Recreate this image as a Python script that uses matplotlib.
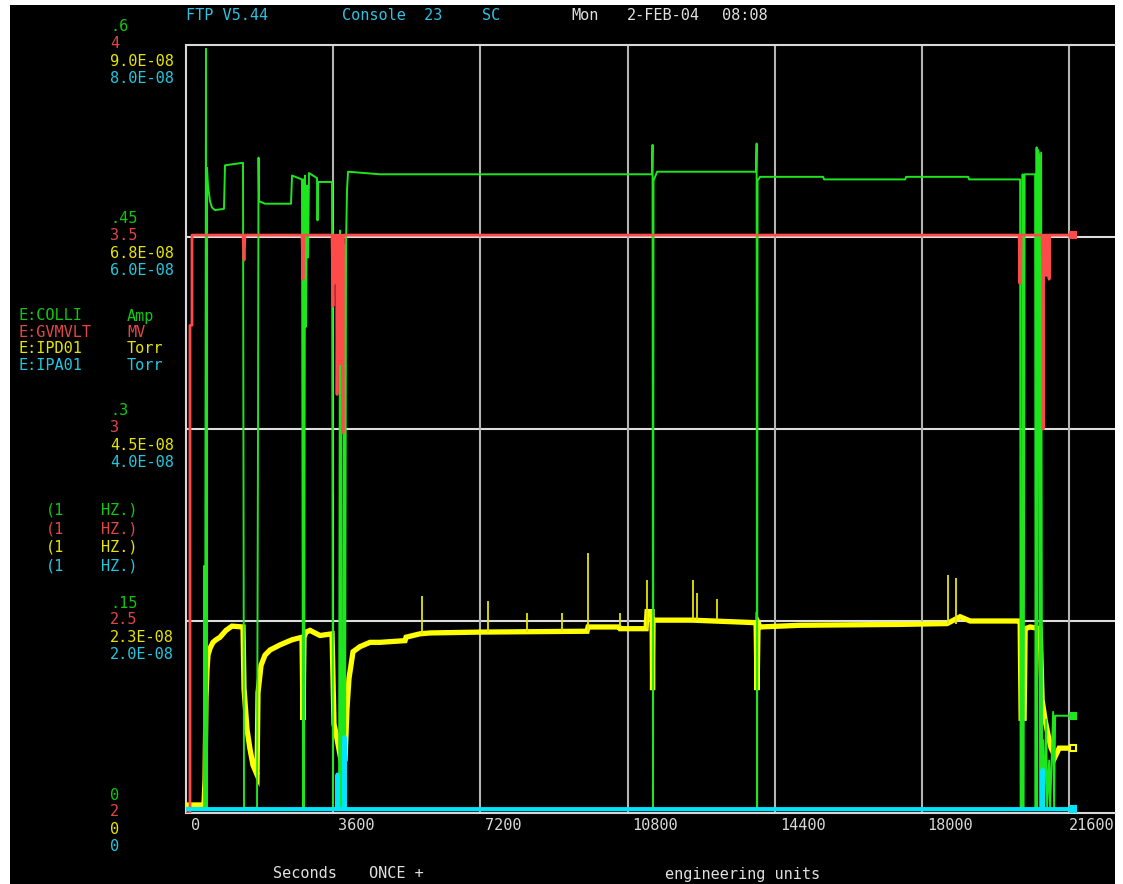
import numpy as np
import matplotlib.pyplot as plt
from matplotlib.patches import Rectangle

W, H = 1123, 884

# x axis (seconds)
x_ticks = [0, 3600, 7200, 10800, 14400, 18000, 21600]
x_max = 22720

# channel info
names = ['E:COLLI', 'E:GVMVLT', 'E:IPD01', 'E:IPA01']
units = ['Amp', 'MV', 'Torr', 'Torr']
colors = ['#1ee61e', '#ff4a4a', '#ffff00', '#00e5ff']
text_colors = ['#10c810', '#e04848', '#e6e600', '#22c8e0']

# scale labels, bottom grid line to top
colli_ticks = ['0', '.15', '.3', '.45', '.6']
gvmvlt_ticks = ['2', '2.5', '3', '3.5', '4']
ipd01_ticks = ['0', '2.3E-08', '4.5E-08', '6.8E-08', '9.0E-08']
ipa01_ticks = ['0', '2.0E-08', '4.0E-08', '6.0E-08', '8.0E-08']
ranges = [(0, 0.6), (2, 4), (0, 9.0e-8), (0, 8.0e-8)]

# E:COLLI (Amp)
colli_pts = [(0, 0.004), (440, 0.004), (440, 0.193), (465, 0.004), (489, 0.597), (502, 0.004),
             (514, 0.504), (538, 0.490), (587, 0.478), (636, 0.473), (709, 0.471), (929, 0.472),
             (954, 0.506), (1394, 0.508), (1419, 0.004), (1737, 0.004), (1761, 0.297), (1774, 0.512),
             (1786, 0.478), (1932, 0.476), (2568, 0.476), (2593, 0.498), (2837, 0.495), (2862, 0.004),
             (2874, 0.495), (2886, 0.004), (2911, 0.498), (2935, 0.380), (2960, 0.490), (2984, 0.434),
             (3008, 0.500), (3204, 0.496), (3216, 0.463), (3229, 0.493), (3571, 0.493), (3596, 0.004),
             (3743, 0.004), (3767, 0.455), (3779, 0.004), (3791, 0.400), (3803, 0.004), (3840, 0.004),
             (3865, 0.444), (3889, 0.004), (3914, 0.444), (3938, 0.487), (3963, 0.501), (4745, 0.499),
             (9637, 0.499), (11398, 0.499), (11410, 0.522), (11422, 0.004), (11434, 0.494), (11521, 0.501),
             (13942, 0.501), (13955, 0.523), (13967, 0.004), (13979, 0.494), (14040, 0.497), (15581, 0.497),
             (15605, 0.495), (17587, 0.495), (17611, 0.497), (19128, 0.497), (19152, 0.495), (20400, 0.495),
             (20412, 0.004), (20449, 0.004), (20461, 0.499), (20485, 0.004), (20510, 0.499), (20767, 0.499),
             (20779, 0.004), (20803, 0.520), (20815, 0.004), (20840, 0.518), (20864, 0.514), (20889, 0.004),
             (20913, 0.516), (20938, 0.004), (20962, 0.057), (20987, 0.004), (21036, 0.073), (21060, 0.004),
             (21109, 0.041), (21134, 0.004), (21207, 0.079), (21231, 0.004), (21256, 0.076), (21696, 0.076)]

# E:GVMVLT (MV)
gvmvlt_pts = [(0, 2.0), (98, 2.0), (98, 3.27), (147, 3.27), (147, 3.505), (1394, 3.505), (1419, 3.44),
              (1443, 3.505), (2837, 3.505), (2862, 3.39), (2886, 3.505), (3571, 3.505), (3596, 3.32),
              (3608, 3.505), (3620, 3.38), (3645, 3.505), (3669, 3.45), (3682, 3.505), (3694, 3.09),
              (3718, 3.505), (3743, 3.17), (3767, 3.505), (3779, 3.25), (3791, 3.17), (3816, 3.505),
              (3840, 2.99), (3852, 3.505), (20376, 3.505), (20388, 3.38), (20400, 3.505), (20412, 3.38),
              (20425, 3.505), (20938, 3.505), (20950, 3.42), (20962, 3.00), (20975, 3.505), (20987, 3.41),
              (20999, 3.505), (21011, 3.40), (21023, 3.505), (21036, 3.42), (21048, 3.505), (21060, 3.40),
              (21072, 3.505), (21085, 3.41), (21097, 3.505), (21109, 3.39), (21121, 3.505), (21696, 3.505)]

# E:IPD01 (Torr, in 1e-8)
ipd01_pts = [(0, 0.094), (440, 0.094), (465, 0.387), (489, 1.35), (514, 1.68), (538, 1.85), (587, 1.93),
             (660, 2.00), (734, 2.03), (832, 2.06), (978, 2.14), (1125, 2.19), (1394, 2.18), (1419, 1.46),
             (1492, 0.98), (1565, 0.75), (1639, 0.56), (1737, 0.45), (1761, 1.41), (1835, 1.73),
             (1932, 1.85), (2055, 1.91), (2299, 1.97), (2593, 2.03), (2837, 2.06), (2862, 1.09),
             (2886, 2.06), (2935, 2.12), (3033, 2.14), (3278, 2.08), (3571, 2.10), (3620, 1.04),
             (3694, 0.87), (3767, 0.68), (3816, 0.56), (3889, 0.62), (3938, 1.23), (3987, 1.58),
             (4085, 1.89), (4256, 1.95), (4501, 2.00), (4745, 2.00), (5357, 2.02), (5381, 2.06),
             (5724, 2.10), (5968, 2.11), (7191, 2.12), (9808, 2.13), (9833, 2.18), (10591, 2.18),
             (10616, 2.16), (11252, 2.16), (11276, 2.36), (11398, 2.36), (11410, 1.44), (11422, 2.26),
             (12377, 2.26), (13942, 2.23), (13967, 1.44), (13991, 2.23), (14040, 2.18), (15018, 2.20),
             (17464, 2.21), (18614, 2.22), (18932, 2.30), (19177, 2.25), (20375, 2.25), (20400, 2.25),
             (20424, 1.11), (20497, 1.11), (20522, 2.16), (20644, 2.18), (20889, 2.16), (20938, 1.32),
             (21011, 1.09), (21085, 0.91), (21158, 0.76), (21256, 0.66), (21354, 0.76), (21600, 0.76),
             (21696, 0.76)]
ipd01_spike_t = [3596, 5773, 7387, 8329, 9185, 9833, 10603, 11264, 12389, 12487, 12977, 18626, 18821]
ipd01_spike_lo = [2.10, 2.10, 2.12, 2.12, 2.13, 2.13, 2.18, 2.16, 2.26, 2.26, 2.26, 2.22, 2.22]
ipd01_spike_hi = [3.74, 2.54, 2.48, 2.34, 2.34, 3.05, 2.34, 2.73, 2.73, 2.58, 2.51, 2.79, 2.75]

# E:IPA01 (Torr, in 1e-8)
ipa01_pts = [(0, 0.04), (3694, 0.04), (3706, 0.40), (3718, 0.04), (3865, 0.04), (3877, 0.79),
             (3889, 0.04), (20938, 0.04), (20950, 0.45), (20962, 0.04), (21696, 0.04)]


def to_div(v, rng):
    lo, hi = rng
    return (np.asarray(v) - lo) / (hi - lo) * 4


fig = plt.figure(figsize=(W / 100, H / 100), dpi=100)
fig.patch.set_facecolor('white')
fig.add_artist(Rectangle((10 / W, 0), (1115 - 10) / W, 1 - 5 / H, transform=fig.transFigure,
                         facecolor='black', edgecolor='none', zorder=-10))

ax = fig.add_axes([186 / W, 1 - 813 / H, (1115 - 186) / W, (813 - 45) / H])
ax.set_facecolor('black')
ax.set_xlim(0, x_max)
ax.set_ylim(0, 4)
ax.set_xticks([])
ax.set_yticks([])
for s in ['top', 'left', 'bottom']:
    ax.spines[s].set_color('#d8d8d8')
    ax.spines[s].set_linewidth(1.5)
ax.spines['right'].set_visible(False)
for k in range(1, 4):
    ax.axhline(k, color='#dcdcdc', lw=1.5, zorder=1)
for t in x_ticks[1:]:
    ax.axvline(t, color='#b4b4b4', lw=1.5, zorder=1)

t_c, v_c = np.array(colli_pts).T
t_g, v_g = np.array(gvmvlt_pts).T
t_y, v_y = np.array(ipd01_pts).T
t_a, v_a = np.array(ipa01_pts).T

yd = to_div(v_y * 1e-8, ranges[2])
ax.plot(t_y, yd, color=colors[2], lw=3.8, zorder=3, solid_joinstyle='miter')
ax.vlines(ipd01_spike_t, to_div(np.array(ipd01_spike_lo) * 1e-8, ranges[2]),
          to_div(np.array(ipd01_spike_hi) * 1e-8, ranges[2]), color='#e6e600', lw=1.3, zorder=3)
cd = to_div(v_c, ranges[0])
ax.plot(t_c, cd, color=colors[0], lw=1.4, zorder=4)
gd = to_div(v_g, ranges[1])
ax.plot(t_g, gd, color=colors[1], lw=2.0, zorder=5)
ad = to_div(v_a * 1e-8, ranges[3])
ax.plot(t_a, ad, color=colors[3], lw=3, zorder=6)

# end-of-trace markers
for tt, dd, c, fc in [(t_c, cd, colors[0], colors[0]), (t_g, gd, colors[1], colors[1]),
                      (t_y, yd, colors[2], 'black'), (t_a, ad, colors[3], colors[3])]:
    ax.plot(tt[-1], dd[-1], marker='s', ms=5, mec=c, mfc=fc, mew=1.5, clip_on=False, zorder=7)

mono = 'DejaVu Sans Mono'
fs = 11

# left scale labels
offsets = [18, 1, -16.5, -33.5]
for i, ticks in enumerate([colli_ticks, gvmvlt_ticks, ipd01_ticks, ipa01_ticks]):
    for k, lab in enumerate(ticks):
        ax.annotate(lab, xy=(110 / W, k), xycoords=('figure fraction', 'data'),
                    xytext=(0, offsets[i]), textcoords='offset pixels',
                    color=text_colors[i], family=mono, fontsize=fs, va='center', ha='left')

# bottom labels
for t in x_ticks:
    dx = 0 if t == x_ticks[-1] else 5
    ax.annotate(str(t), xy=(t, 1 - 825 / H), xycoords=('data', 'figure fraction'),
                xytext=(dx, 0), textcoords='offset pixels', color='#d8d8d8',
                family=mono, fontsize=fs, va='center', ha='left', annotation_clip=False)


def ftext(x, y, s, c):
    fig.text(x / W, 1 - y / H, s, color=c, family=mono, fontsize=fs, va='center', ha='left')


# channel legend
name_y = [316, 332.5, 349, 366]
hz_y = [510, 528.5, 547, 566]
for i in range(4):
    ftext(18, name_y[i], names[i], text_colors[i])
    ftext(127, name_y[i], units[i], text_colors[i])
    ftext(46, hz_y[i], '(1', text_colors[i])
    ftext(101, hz_y[i], 'HZ.)', text_colors[i])

# header
hdr_cyan = '#30c0e0'
ftext(186, 15, 'FTP V5.44', hdr_cyan)
ftext(342, 15, 'Console  23', hdr_cyan)
ftext(482, 15, 'SC', hdr_cyan)
ftext(571, 15, 'Mon', '#e0e0e0')
ftext(627, 15, '2-FEB-04', '#e0e0e0')
ftext(722, 15, '08:08', '#e0e0e0')

# footer
ftext(273, 874, 'Seconds', '#e0e0e0')
ftext(369, 874, 'ONCE +', '#e0e0e0')
ftext(665, 874, 'engineering units', '#e0e0e0')

fig.savefig('out.png', dpi=100, facecolor=fig.get_facecolor())
